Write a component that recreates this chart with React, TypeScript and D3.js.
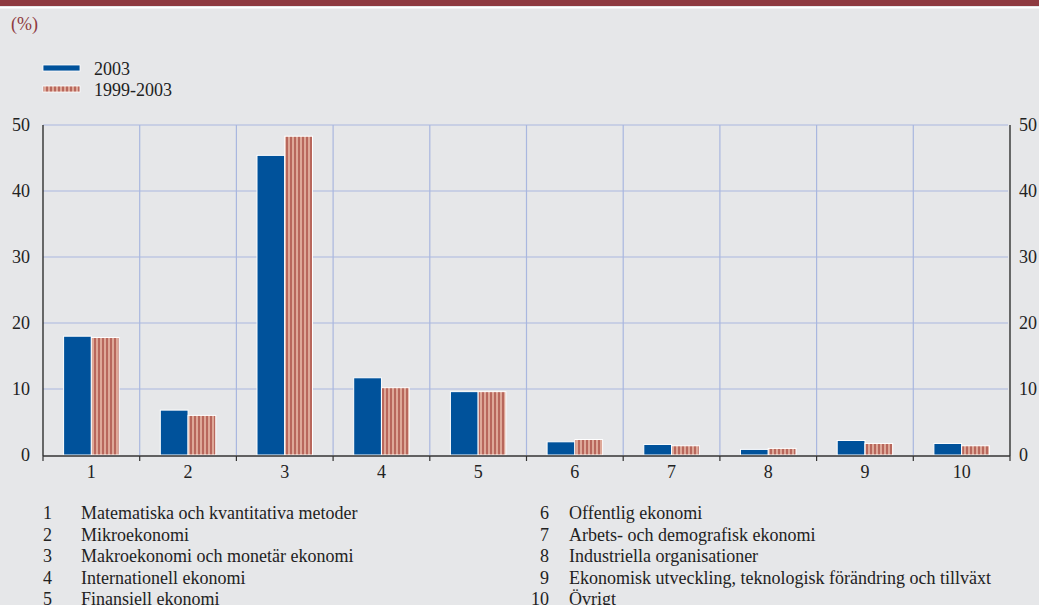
import React from "react";
import * as d3 from "d3";

const categories = ["1", "2", "3", "4", "5", "6", "7", "8", "9", "10"];
const series2003 = [18.0, 6.8, 45.4, 11.7, 9.6, 2.0, 1.6, 0.85, 2.2, 1.75];
const series9903 = [17.8, 6.0, 48.3, 10.2, 9.6, 2.35, 1.4, 1.0, 1.75, 1.4];
const yTicks = [0, 10, 20, 30, 40, 50];
const seriesNames = ["2003", "1999-2003"];
const notesLeft = [
  "Matematiska och kvantitativa metoder",
  "Mikroekonomi",
  "Makroekonomi och monetär ekonomi",
  "Internationell ekonomi",
  "Finansiell ekonomi",
];
const notesRight = [
  "Offentlig ekonomi",
  "Arbets- och demografisk ekonomi",
  "Industriella organisationer",
  "Ekonomisk utveckling, teknologisk förändring och tillväxt",
  "Övrigt",
];

const W = 1039;
const H = 605;
const BG = "#E6E7E9";
const BLUE = "#00529B";
const STRIPE_L = "#DEA898";
const STRIPE_D = "#B8675C";
const GRID = "#A9B7DF";
const RED = "#8E3A40";
const FONT = '"Liberation Serif", "Times New Roman", serif';
const TXT: React.CSSProperties = { fontFamily: FONT };

export default function App() {
  const left = 43;
  const right = 1010;
  const top = 125;
  const bottom = 455;
  const x = d3.scaleBand<string>().domain(categories).range([left, right]).padding(0);
  const y = d3.scaleLinear().domain([0, 50]).range([bottom, top]);
  const bw = x.bandwidth();
  const inner = d3
    .scaleBand<string>()
    .domain(seriesNames)
    .range([bw * 0.213, bw * 0.787])
    .padding(0);
  const boundaries = categories.map((c) => x(c) as number).concat([right]);

  return (
    <svg
      width={W}
      height={H}
      style={{ position: "absolute", left: 0, top: 0, display: "block", fontFamily: FONT }}
    >
      <defs>
        <pattern id="stripes" patternUnits="userSpaceOnUse" width={4} height={4} x={0} y={0}>
          <rect x={0} y={0} width={2} height={4} fill={STRIPE_L} />
          <rect x={2} y={0} width={2} height={4} fill={STRIPE_D} />
        </pattern>
      </defs>
      <rect x={0} y={0} width={W} height={H} fill={BG} />
      <rect x={0} y={0} width={W} height={6} fill={RED} />
      <rect x={0} y={7} width={W} height={1.5} fill="#ffffff" />
      <text x={11} y={30} fontSize={18} fill={RED} style={TXT}>
        (%)
      </text>

      {/* legend */}
      <rect x={43} y={65} width={37} height={6} fill={BLUE} stroke="#fff" strokeWidth={0.8} />
      <text x={94} y={74.5} fontSize={18} fill="#222" style={TXT}>
        {seriesNames[0]}
      </text>
      <rect x={43} y={86} width={37} height={6} fill="url(#stripes)" stroke="#fff" strokeWidth={0.8} />
      <text x={94} y={95.5} fontSize={18} fill="#222" style={TXT}>
        {seriesNames[1]}
      </text>

      {/* grid */}
      {yTicks.filter((t) => t > 0).map((t) => (
        <line key={"h" + t} x1={left} x2={right - 2} y1={y(t)} y2={y(t)} stroke={GRID} strokeWidth={1.2} />
      ))}
      {boundaries.slice(1, -1).map((b, i) => (
        <line key={"v" + i} x1={b} x2={b} y1={top} y2={bottom} stroke={GRID} strokeWidth={1.2} />
      ))}

      {/* bars */}
      {categories.map((c, i) => {
        const x0 = x(c) as number;
        return (
          <g key={c}>
            <rect
              x={x0 + (inner(seriesNames[0]) as number)}
              y={y(series2003[i])}
              width={inner.bandwidth()}
              height={bottom - y(series2003[i])}
              fill={BLUE}
              stroke="#fff"
              strokeWidth={1}
            />
            <rect
              x={x0 + (inner(seriesNames[1]) as number)}
              y={y(series9903[i])}
              width={inner.bandwidth()}
              height={bottom - y(series9903[i])}
              fill="url(#stripes)"
              stroke="#fff"
              strokeWidth={1}
            />
          </g>
        );
      })}

      {/* axes */}
      <line x1={left} x2={left} y1={top} y2={bottom + 1} stroke="#222" strokeWidth={1.3} />
      <line x1={right} x2={right} y1={top} y2={bottom + 1} stroke="#222" strokeWidth={1.3} />
      <line x1={left} x2={right} y1={bottom + 1} y2={bottom + 1} stroke="#333" strokeWidth={1.3} />
      {boundaries.map((b, i) => (
        <line key={"t" + i} x1={b} x2={b} y1={bottom + 1} y2={bottom + 6} stroke="#333" strokeWidth={1.2} />
      ))}
      {categories.map((c) => (
        <text
          key={"xl" + c}
          x={(x(c) as number) + bw / 2}
          y={478}
          fontSize={18}
          textAnchor="middle"
          fill="#222"
          style={TXT}
        >
          {c}
        </text>
      ))}
      {yTicks.map((t) => (
        <g key={"yl" + t}>
          <text x={30} y={y(t) + 6} fontSize={18} textAnchor="end" fill="#222" style={TXT}>
            {t}
          </text>
          <text x={1019} y={y(t) + 6} fontSize={18} textAnchor="start" fill="#222" style={TXT}>
            {t}
          </text>
        </g>
      ))}

      {/* notes */}
      {notesLeft.map((n, i) => (
        <g key={"nl" + i}>
          <text x={52} y={519 + i * 21.5} fontSize={18} textAnchor="end" fill="#222" style={TXT}>
            {i + 1}
          </text>
          <text x={81} y={519 + i * 21.5} fontSize={18} fill="#222" style={TXT}>
            {n}
          </text>
        </g>
      ))}
      {notesRight.map((n, i) => (
        <g key={"nr" + i}>
          <text x={549} y={519 + i * 21.5} fontSize={18} textAnchor="end" fill="#222" style={TXT}>
            {i + 6}
          </text>
          <text x={569} y={519 + i * 21.5} fontSize={18} fill="#222" style={TXT}>
            {n}
          </text>
        </g>
      ))}
    </svg>
  );
}
